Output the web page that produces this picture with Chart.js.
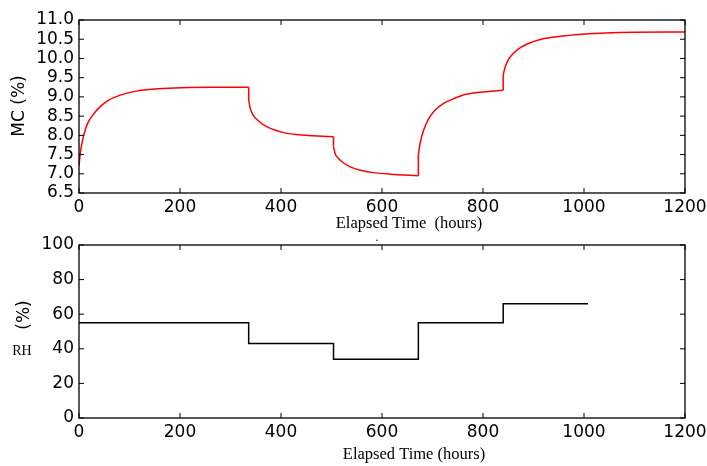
<!DOCTYPE html>
<html>
<head>
<meta charset="utf-8">
<script src="https://cdn.jsdelivr.net/npm/chart.js@4.4.1/dist/chart.umd.min.js"></script>
<style>
  html, body { margin: 0; padding: 0; background: #fff; }
  #wrap { position: relative; width: 707px; height: 466px; }
  canvas { position: absolute; left: 0; }
  #mc { top: 0; }
  #rh { top: 235px; }
</style>
</head>
<body>
<div id="wrap">
  <canvas id="mc" width="707" height="235"></canvas>
  <canvas id="rh" width="707" height="231"></canvas>
</div>
<script>
"use strict";

// MC (%), one array per RH step: [hours, MC]
var mcStep1 = [[0, 7.2], [2, 7.48], [5, 7.74], [10, 8.03], [17, 8.31], [27, 8.52], [40, 8.72],
               [57, 8.90], [80, 9.04], [113, 9.15], [157, 9.21], [203, 9.24], [260, 9.25],
               [336, 9.25]];
var mcStep2 = [[336, 8.92], [339, 8.70], [345, 8.52], [355, 8.38], [368, 8.25], [385, 8.15],
               [405, 8.07], [431, 8.02], [464, 7.99], [504, 7.96]];
var mcStep3 = [[504, 7.70], [507, 7.53], [514, 7.40], [524, 7.28], [537, 7.18], [557, 7.09],
               [583, 7.03], [616, 6.99], [672, 6.95]];
var mcStep4 = [[672, 7.50], [676, 7.83], [682, 8.12], [692, 8.42], [705, 8.65], [722, 8.83],
               [743, 8.96], [761, 9.05], [794, 9.12], [840, 9.17]];
var mcStep5 = [[840, 9.57], [844, 9.78], [850, 9.96], [860, 10.13], [874, 10.28], [890, 10.39],
               [910, 10.48], [937, 10.55], [970, 10.60], [1009, 10.64], [1042, 10.66],
               [1100, 10.68], [1200, 10.69]];
// vertical jumps at each RH change: [hours, MC before, MC after]
var mcJumps = [[336, 9.25, 8.92], [504, 7.96, 7.70], [672, 6.95, 7.50], [840, 9.17, 9.57]];

// RH (%) steps, lower panel
var rhHours  = [0, 336, 504, 672, 840, 1008];
var rhValues = [55, 43, 34, 55, 66, 66];

var timeTicks = [0, 200, 400, 600, 800, 1000, 1200];
var mcTicks   = [6.5, 7.0, 7.5, 8.0, 8.5, 9.0, 9.5, 10.0, 10.5, 11.0];
var rhTicks   = [0, 20, 40, 60, 80, 100];

var TICK_FONT = { family: "'DejaVu Sans'", size: 17 };

function pts(arr) {
  return arr.map(function (p) { return { x: p[0], y: p[1] }; });
}

function jumpPts(arr) {
  var out = [];
  arr.forEach(function (j) {
    out.push({ x: j[0], y: j[1] }, { x: j[0], y: j[2] }, { x: j[0], y: null });
  });
  return out;
}

function setTicks(list) {
  return function (s) { s.ticks = list.map(function (v) { return { value: v }; }); };
}

// box round the plot with inward ticks on all four sides
var frame = {
  id: 'frame',
  afterDatasetsDraw: function (chart) {
    var ctx = chart.ctx, a = chart.chartArea, x = chart.scales.x, y = chart.scales.y;
    ctx.save();
    ctx.strokeStyle = '#000';
    ctx.lineWidth = 1;
    ctx.beginPath();
    x.ticks.forEach(function (t) {
      var px = x.getPixelForValue(t.value);
      ctx.moveTo(px, a.bottom); ctx.lineTo(px, a.bottom - 5);
      ctx.moveTo(px, a.top);    ctx.lineTo(px, a.top + 5);
    });
    y.ticks.forEach(function (t) {
      var py = y.getPixelForValue(t.value);
      ctx.moveTo(a.left, py);  ctx.lineTo(a.left + 5, py);
      ctx.moveTo(a.right, py); ctx.lineTo(a.right - 5, py);
    });
    ctx.stroke();
    ctx.lineWidth = 1.3;
    ctx.strokeRect(a.left, a.top, a.width, a.height);
    ctx.restore();
  }
};

function labels(items) {
  return {
    id: 'labels',
    afterDraw: function (chart) {
      var ctx = chart.ctx;
      items.forEach(function (it) {
        ctx.save();
        ctx.font = it.font;
        ctx.fillStyle = '#000';
        ctx.textAlign = 'center';
        ctx.textBaseline = 'middle';
        ctx.translate(it.x, it.y);
        if (it.rot) ctx.rotate(it.rot);
        ctx.fillText(it.text, 0, 0);
        ctx.restore();
      });
    }
  };
}

function baseOptions(yMin, yMax, yList, yFmt, padTop, xHeight) {
  return {
    responsive: false,
    animation: false,
    layout: { padding: { top: padTop, right: 22, left: 0, bottom: 0 } },
    plugins: { legend: { display: false }, tooltip: { enabled: false } },
    scales: {
      x: {
        type: 'linear', min: 0, max: 1200,
        afterBuildTicks: setTicks(timeTicks),
        afterFit: function (s) { s.height = xHeight; s.paddingLeft = 0; s.paddingRight = 0; },
        grid: { display: false, drawTicks: false },
        border: { display: false },
        ticks: { color: '#000', font: TICK_FONT, padding: 4, maxRotation: 0, autoSkip: false,
                 callback: function (v) { return String(v); } }
      },
      y: {
        type: 'linear', min: yMin, max: yMax,
        afterBuildTicks: setTicks(yList),
        afterFit: function (s) { s.width = 79; s.paddingTop = 0; s.paddingBottom = 0; },
        grid: { display: false, drawTicks: false },
        border: { display: false },
        ticks: { color: '#000', font: TICK_FONT, padding: 5, autoSkip: false, callback: yFmt }
      }
    }
  };
}

function curve(data) {
  return {
    data: pts(data), borderColor: '#ff0000', borderWidth: 1.5, pointRadius: 0,
    cubicInterpolationMode: 'monotone', fill: false
  };
}

new Chart(document.getElementById('mc'), {
  type: 'line',
  data: {
    datasets: [
      curve(mcStep1), curve(mcStep2), curve(mcStep3), curve(mcStep4), curve(mcStep5),
      { data: jumpPts(mcJumps), borderColor: '#ff0000', borderWidth: 1.5, pointRadius: 0,
        tension: 0, spanGaps: false, fill: false }
    ]
  },
  options: baseOptions(6.5, 11, mcTicks, function (v) { return v.toFixed(1); }, 20, 42),
  plugins: [frame, labels([
    { text: 'MC (%)', x: 20, y: 106, rot: -Math.PI / 2, font: "17px 'DejaVu Sans'" },
    { text: 'Elapsed Time  (hours)', x: 409, y: 224, font: "16.5px 'Liberation Serif'" }
  ])]
});

new Chart(document.getElementById('rh'), {
  type: 'line',
  data: {
    datasets: [{
      data: rhHours.map(function (h, i) { return { x: h, y: rhValues[i] }; }),
      borderColor: '#000', borderWidth: 1.5, pointRadius: 0, stepped: true, fill: false
    }]
  },
  options: baseOptions(0, 100, rhTicks, function (v) { return String(v); }, 10, 48),
  plugins: [frame, labels([
    { text: '(%)', x: 25, y: 80, rot: -Math.PI / 2, font: "17px 'DejaVu Sans'" },
    { text: 'RH', x: 22, y: 116, font: "14px 'Liberation Serif'" },
    { text: 'Elapsed Time (hours)', x: 414, y: 220, font: "16.5px 'Liberation Serif'" },
    { text: '.', x: 377, y: 3, font: "12px 'Liberation Serif'" }
  ])]
});
</script>
</body>
</html>
